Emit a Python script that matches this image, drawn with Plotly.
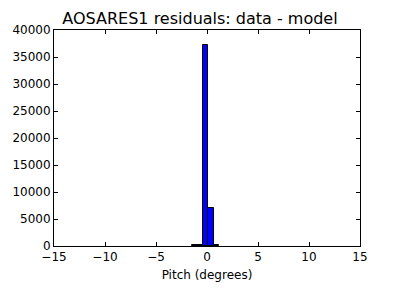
import plotly.graph_objects as go

bin_edges = [-1.44, -0.92, -0.40, 0.12, 0.64, 1.16]
counts = [180, 250, 37200, 7000, 200]
x_ticks = [-15, -10, -5, 0, 5, 10, 15]
x_labels = ["\u221215", "\u221210", "\u22125", "0", "5", "10", "15"]
y_ticks = [0, 5000, 10000, 15000, 20000, 25000, 30000, 35000, 40000]

centers = [(a + b) / 2 for a, b in zip(bin_edges[:-1], bin_edges[1:])]
widths = [b - a for a, b in zip(bin_edges[:-1], bin_edges[1:])]

fig = go.Figure(go.Bar(
    x=centers, y=counts, width=widths,
    marker=dict(color="#0000ff", line=dict(color="black", width=1)),
))

axis_common = dict(
    showline=True, linecolor="black", linewidth=1, mirror="ticks",
    ticks="inside", ticklen=4, tickcolor="black", showgrid=False, zeroline=False,
    tickfont=dict(family="DejaVu Sans", size=12, color="black"),
)
fig.update_xaxes(range=[-15, 15], tickvals=x_ticks, ticktext=x_labels,
                 title=dict(text="Pitch (degrees)", font=dict(family="DejaVu Sans", size=12, color="black"), standoff=7),
                 **axis_common)
fig.update_yaxes(range=[0, 40000], tickvals=y_ticks, ticktext=[str(v) for v in y_ticks], **axis_common)

fig.update_layout(
    width=400, height=300,
    margin=dict(l=51, r=40, t=30, b=54),
    paper_bgcolor="white", plot_bgcolor="white",
    title=dict(text="AOSARES1 residuals: data - model", x=0.5, xanchor="center", y=0.94, yanchor="middle",
               font=dict(family="DejaVu Sans", size=16, color="black")),
    showlegend=False, bargap=0,
)
fig.write_html("out.html")
